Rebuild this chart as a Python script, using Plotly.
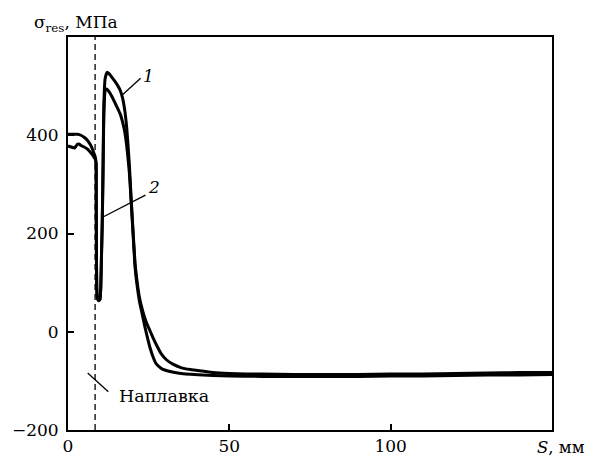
import plotly.graph_objects as go

# distance S, mm
s1 = [0, 1, 2, 3, 4, 5, 6, 7, 7.5, 8, 8.4, 8.7, 8.75, 8.8, 8.9, 9.1, 9.5, 9.9, 10.15, 10.35,
      10.6, 10.85, 11.1, 11.5, 12.1, 12.8, 13.6, 14.5, 15.5, 16.2, 16.9, 17.5, 18.2, 19.0, 19.6,
      20.2, 20.8, 21.5, 22.2, 23.0, 23.7, 24.4, 25.4, 26.4, 27.5, 28.8, 30.5, 32.5, 35, 38, 41.7,
      45, 50, 55, 60, 70, 80, 90, 100, 110, 120, 130, 140, 150]
# residual stress, MPa, curve 1
sig1 = [402, 402, 402, 402, 400, 396, 390, 380, 373, 364, 357, 345, 280, 180, 95, 70, 64, 66, 90, 150,
        220, 330, 460, 515, 528, 525, 518, 510, 500, 491, 476, 455, 415, 342, 268,
        200, 138, 98, 68, 46, 30, 17, 2, -13, -28, -44, -57, -66, -73, -77, -80,
        -83, -85, -86, -86, -87, -87, -87, -86, -86, -85, -84, -83, -83]

s2 = [0, 1, 2, 2.5, 3, 3.5, 4, 5, 6, 7, 7.5, 8, 8.4, 8.7, 8.75, 8.8, 8.9, 9.1, 9.5, 9.9, 10.15,
      10.35, 10.6, 10.85, 11.1, 11.5, 12.0, 12.8, 13.6, 14.5, 15.5, 16.2, 16.8, 17.5, 18.2, 19.0,
      19.6, 20.2, 20.8, 21.5, 22.2, 23.0, 23.7, 24.4, 25.4, 26.4, 27.3, 29, 31.6, 35, 41.7, 45,
      50, 60, 70, 80, 90, 100, 110, 120, 130, 140, 150]
# residual stress, MPa, curve 2
sig2 = [378, 376, 374, 378, 382, 382, 379, 376, 372, 365, 361, 356, 352, 342, 270, 170, 90, 68, 63, 66, 88,
        145, 215, 320, 440, 490, 494, 488, 479, 467, 453, 443, 430, 410, 378, 325,
        262, 195, 130, 90, 60, 36, 14, -6, -32, -52, -65, -75, -81, -85, -88, -89,
        -90, -91, -91, -91, -91, -90, -90, -89, -88, -88, -87]

x_ticks = [0, 50, 100]
y_ticks = [-200, 0, 200, 400]
x_range = [0, 150]
y_range = [-200, 600]
deposit_edge = 8.4  # boundary of the deposited layer, mm

# label anchors (data coordinates)
lab1_text, lab1_pos, lab1_line = "<i>1</i>", (25.0, 520), ((16.8, 482), (22.5, 516))
lab2_text, lab2_pos, lab2_line = "<i>2</i>", (26.5, 295), ((10.7, 233), (24.0, 278))
lab3_text, lab3_pos, lab3_line = "Наплавка", (15.3, -131), ((6.1, -84), (12.5, -122))

FONT = "DejaVu Serif"

fig = go.Figure()
for xs, ys in [(s1, sig1), (s2, sig2)]:
    fig.add_trace(go.Scatter(x=xs, y=ys, mode="lines",
                             line=dict(color="black", width=3, shape="spline", smoothing=0.4),
                             showlegend=False, hoverinfo="skip"))

fig.add_shape(type="line", x0=deposit_edge, x1=deposit_edge, y0=0, y1=1, xref="x", yref="paper",
              line=dict(color="black", width=1.3, dash="6px,4px"))

for (p0, p1) in [lab1_line, lab2_line, lab3_line]:
    fig.add_shape(type="line", x0=p0[0], y0=p0[1], x1=p1[0], y1=p1[1], xref="x", yref="y",
                  line=dict(color="black", width=1.3))

fig.add_annotation(x=lab1_pos[0], y=lab1_pos[1], text=lab1_text, showarrow=False,
                   font=dict(family=FONT, size=17, color="black"))
fig.add_annotation(x=lab2_pos[0], y=lab2_pos[1], text=lab2_text, showarrow=False,
                   font=dict(family=FONT, size=17, color="black"))
fig.add_annotation(x=lab3_pos[0], y=lab3_pos[1], text=lab3_text, showarrow=False,
                   xanchor="left", yanchor="middle",
                   font=dict(family=FONT, size=17.5, color="black"))

fig.add_annotation(xref="paper", yref="paper", x=-0.074, y=1.034, xanchor="left", yanchor="middle",
                   text="σ<sub>res</sub>, МПа", showarrow=False,
                   font=dict(family=FONT, size=17, color="black"))
fig.add_annotation(xref="paper", yref="paper", x=1.072, y=-0.045, xanchor="right", yanchor="middle",
                   text="<i>S</i>, мм", showarrow=False,
                   font=dict(family=FONT, size=16.5, color="black"))

axis_common = dict(showline=True, linecolor="black", linewidth=2, mirror=True,
                   ticks="inside", ticklen=6, tickwidth=1.5, tickcolor="black",
                   showgrid=False, zeroline=False,
                   tickfont=dict(family=FONT, size=17, color="black"))
fig.update_xaxes(range=x_range, tickvals=x_ticks, **axis_common)
fig.update_yaxes(range=y_range, tickvals=y_ticks, ticklabelstandoff=4, **axis_common)

fig.update_layout(width=589, height=468, margin=dict(l=64, r=37, t=37, b=25),
                  plot_bgcolor="white", paper_bgcolor="white",
                  font=dict(family=FONT, color="black"))

fig.write_html("out.html", config={"displayModeBar": False},
               post_script="document.body.style.margin='0';document.body.style.overflow='hidden';")
